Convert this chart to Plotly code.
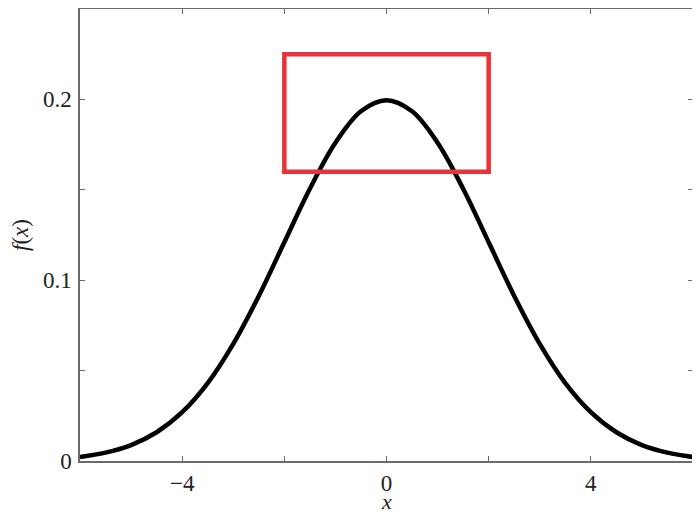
import plotly.graph_objects as go

# values
x_vals = [-6, -5.5, -5, -4.5, -4, -3.5, -3, -2.5, -2, -1.5, -1, -0.5, 0,
          0.5, 1, 1.5, 2, 2.5, 3, 3.5, 4, 4.5, 5, 5.5, 6]
f_vals = [0.0022, 0.0046, 0.0088, 0.0159, 0.0270, 0.0431, 0.0648, 0.0913, 0.1210,
          0.1506, 0.1760, 0.1934, 0.1995, 0.1934, 0.1760, 0.1506, 0.1210, 0.0913,
          0.0648, 0.0431, 0.0270, 0.0159, 0.0088, 0.0046, 0.0022]

# highlighted box
box_x = [-2, 2]
box_y = [0.16, 0.225]

x_ticks = [-6, -4, -2, 0, 2, 4, 6]
x_ticktext = ["", "\u22124", "", "0", "", "4", ""]
y_ticks = [0, 0.05, 0.1, 0.15, 0.2, 0.25]
y_ticktext = ["0", "", "0.1", "", "0.2", ""]

FONT = "Liberation Serif"
AXIS = "#6b6b6b"
TXT = "#222222"

fig = go.Figure()

fig.add_trace(go.Scatter(
    x=x_vals, y=f_vals,
    mode="lines",
    line=dict(color="black", width=4.5, shape="spline", smoothing=1.0),
    showlegend=False,
    hoverinfo="skip",
))

fig.add_shape(
    type="rect", xref="x", yref="y",
    x0=box_x[0], x1=box_x[1], y0=box_y[0], y1=box_y[1],
    line=dict(color="#e8333a", width=4.5),
)

axis_common = dict(
    showgrid=False, zeroline=False, automargin=False,
    showline=True, linecolor=AXIS, linewidth=1.5, mirror="ticks",
    ticks="inside", ticklen=5, tickwidth=1.2, tickcolor=AXIS,
    tickfont=dict(family=FONT, size=23, color=TXT),
)

fig.update_xaxes(
    range=[-6, 6], tickvals=x_ticks, ticktext=x_ticktext,
    ticklabelstandoff=1,
    **axis_common,
)
fig.update_yaxes(
    range=[0, 0.25], tickvals=y_ticks, ticktext=y_ticktext,
    ticklabelstandoff=2,
    title=dict(text="<i>f</i>(<i>x</i>)", font=dict(family=FONT, size=23, color=TXT),
               standoff=12),
    **axis_common,
)

# x axis title placed at the bottom edge, under the tick labels
fig.add_annotation(
    text="<i>x</i>", xref="paper", x=0.5, yref="paper", y=0,
    yanchor="bottom", yshift=-55, showarrow=False,
    font=dict(family=FONT, size=22, color=TXT),
)

# the page body adds an 8px offset, so the figure is 8px smaller
fig.update_layout(
    width=692, height=506,
    margin=dict(l=72, r=7, t=1, b=53),
    plot_bgcolor="white", paper_bgcolor="white",
)

fig.write_html("out.html")
